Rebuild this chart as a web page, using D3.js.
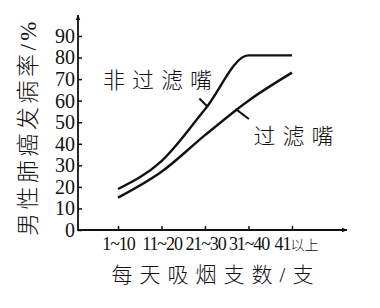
<!DOCTYPE html>
<html>
<head>
<meta charset="utf-8">
<script src="https://cdn.jsdelivr.net/npm/d3@7"></script>
<style>
  body { margin: 0; background: #fff; }
  svg text { fill: #111; }
</style>
</head>
<body>
<svg id="canvas" width="380" height="308"></svg>
<script>
let categories = ['1~10', '11~20', '21~30', '31~40', '41以上'];
let unfiltered = [19, 32, 56, 81, 81];
let filtered = [15, 27, 44, 60, 73];
let yTicks = [0, 10, 20, 30, 40, 50, 60, 70, 80, 90];

let fontMix = '"Liberation Serif", "Noto Sans CJK SC", serif';

let svg = d3.select('#canvas');

let xScale = d3.scaleLinear().domain([0, 4]).range([118, 292]);
let yScale = d3.scaleLinear().domain([0, 90]).range([230, 36]);

let originX = 78;
let originY = 230;

// arrow head
svg.append('defs')
  .append('marker')
  .attr('id', 'arrow')
  .attr('viewBox', '0 0 10 10')
  .attr('refX', 9)
  .attr('refY', 5)
  .attr('markerWidth', 6)
  .attr('markerHeight', 6)
  .attr('markerUnits', 'userSpaceOnUse')
  .attr('orient', 'auto')
  .append('path')
  .attr('d', 'M0,1 L10,5 L0,9 z')
  .attr('fill', '#111');

// axes
let yAxis = d3.axisLeft(yScale)
  .tickValues(yTicks)
  .tickSize(-4)
  .tickPadding(3);

let yG = svg.append('g')
  .attr('transform', 'translate(' + originX + ',0)')
  .call(yAxis);
yG.select('.domain').remove();
yG.selectAll('line').attr('stroke', '#111').attr('stroke-width', 1.5);
yG.selectAll('text')
  .attr('font-family', fontMix)
  .attr('font-size', 20)
  .attr('fill', '#111');

let xAxis = d3.axisBottom(xScale)
  .tickValues(d3.range(categories.length))
  .tickFormat((i) => categories[i])
  .tickSize(-4)
  .tickPadding(7);

let xG = svg.append('g')
  .attr('transform', 'translate(0,' + originY + ')')
  .call(xAxis);
xG.select('.domain').remove();
xG.selectAll('line').attr('stroke', '#111').attr('stroke-width', 1.5);
xG.selectAll('text')
  .attr('font-family', fontMix)
  .attr('font-size', 18)
  .attr('letter-spacing', -1.1)
  .attr('fill', '#111')
  .each(function (i) {
    // CJK part of a label is set smaller, as in the original
    let label = categories[i];
    let m = label.match(/^([^\u4e00-\u9fff]*)([\u4e00-\u9fff]*)$/);
    let t = d3.select(this).text(null);
    t.append('tspan').text(m[1]);
    if (m[2]) {
      t.attr('dx', 4);
      t.append('tspan')
        .text(m[2])
        .attr('font-size', 14)
        .attr('font-weight', 300)
        .attr('letter-spacing', 0);
    }
  });

svg.append('line')
  .attr('x1', originX).attr('y1', originY + 1)
  .attr('x2', originX).attr('y2', 15)
  .attr('stroke', '#111').attr('stroke-width', 1.8)
  .attr('marker-end', 'url(#arrow)');

svg.append('line')
  .attr('x1', originX - 1).attr('y1', originY)
  .attr('x2', 347).attr('y2', originY)
  .attr('stroke', '#111').attr('stroke-width', 1.8)
  .attr('marker-end', 'url(#arrow)');

// curves
let line = d3.line()
  .x((d, i) => xScale(i))
  .y((d) => yScale(d))
  .curve(d3.curveMonotoneX);

[unfiltered, filtered].forEach((series) => {
  svg.append('path')
    .datum(series)
    .attr('d', line)
    .attr('fill', 'none')
    .attr('stroke', '#111')
    .attr('stroke-width', 2.4);
});

// leader lines (category index, percent)
let leaders = [
  [[1.87, 61], [2.06, 57.2]],
  [[2.70, 56.2], [3.01, 51.5]]
];
leaders.forEach((pair) => {
  svg.append('line')
    .attr('x1', xScale(pair[0][0])).attr('y1', yScale(pair[0][1]))
    .attr('x2', xScale(pair[1][0])).attr('y2', yScale(pair[1][1]))
    .attr('stroke', '#111').attr('stroke-width', 2);
});

// labels
let cjkWeight = 300;

svg.append('text')
  .text('非过滤嘴')
  .attr('x', 161).attr('y', 80)
  .attr('text-anchor', 'middle')
  .attr('dominant-baseline', 'central')
  .attr('font-family', fontMix)
  .attr('font-weight', cjkWeight)
  .attr('font-size', 22)
  .attr('letter-spacing', 7);

svg.append('text')
  .text('过滤嘴')
  .attr('x', 297).attr('y', 136)
  .attr('text-anchor', 'middle')
  .attr('dominant-baseline', 'central')
  .attr('font-family', fontMix)
  .attr('font-weight', cjkWeight)
  .attr('font-size', 22)
  .attr('letter-spacing', 7);

svg.append('text')
  .text('每天吸烟支数/支')
  .attr('x', 216).attr('y', 275)
  .attr('text-anchor', 'middle')
  .attr('dominant-baseline', 'central')
  .attr('font-family', fontMix)
  .attr('font-weight', cjkWeight)
  .attr('font-size', 21)
  .attr('letter-spacing', 7);

svg.append('text')
  .text('男性肺癌发病率/%')
  .attr('transform', 'translate(28,127) rotate(-90)')
  .attr('text-anchor', 'middle')
  .attr('dominant-baseline', 'central')
  .attr('font-family', fontMix)
  .attr('font-weight', cjkWeight)
  .attr('font-size', 23)
  .attr('letter-spacing', 3.5);
</script>
</body>
</html>
